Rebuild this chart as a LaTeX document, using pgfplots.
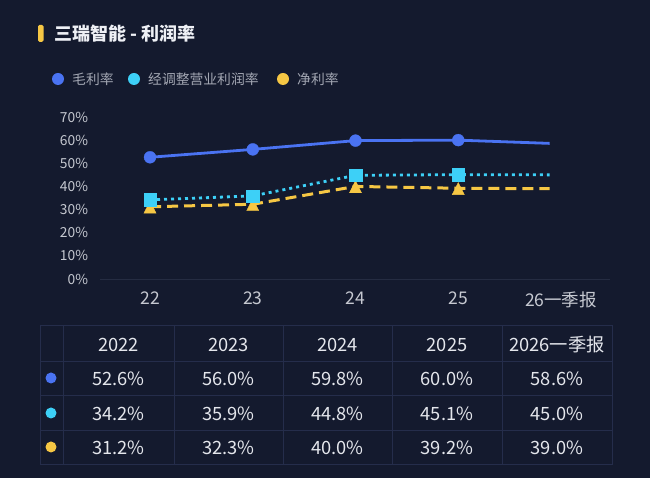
\documentclass[border=0pt]{standalone}
\usepackage{pgfplots}
\pgfplotsset{compat=1.18}
\usepackage{fontspec}
\setmainfont{Noto Sans CJK SC}
\definecolor{bg}{HTML}{141A2E}
\definecolor{cblue}{HTML}{4A73F2}
\definecolor{ccyan}{HTML}{3DD0F7}
\definecolor{cyel}{HTML}{F6C744}
\definecolor{titlec}{HTML}{EEF0F5}
\definecolor{legc}{HTML}{A3A7B3}
\definecolor{tickc}{HTML}{C6C9D1}
\definecolor{tabc}{HTML}{E4E6EC}
\definecolor{gridc}{HTML}{252D4B}
\definecolor{basec}{HTML}{252C42}
\begin{document}
\begin{tikzpicture}
\fill[bg] (0,0) rectangle (650pt,478pt);
\begin{scope}[x=1pt,y=-1pt,yshift=478pt]
  % title
  \fill[cyel, rounded corners=1.5pt] (38,25) rectangle (43.5,42);
  \node[anchor=west, text=titlec, font=\fontsize{18}{20}\selectfont\bfseries, inner sep=0] at (54,34) {三瑞智能 - 利润率};
  % legend
  \fill[cblue] (58,79) circle (6);
  \node[anchor=west, text=legc, font=\fontsize{13.8}{15}\selectfont, inner sep=0] at (72,79) {毛利率};
  \fill[ccyan] (134,79) circle (6);
  \node[anchor=west, text=legc, font=\fontsize{13.8}{15}\selectfont, inner sep=0] at (148,79) {经调整营业利润率};
  \fill[cyel] (283,79) circle (6);
  \node[anchor=west, text=legc, font=\fontsize{13.8}{15}\selectfont, inner sep=0] at (297,79) {净利率};
  % table grid
  \draw[gridc, line width=0.8pt] (40,325) rectangle (612,464);
  \foreach \yy in {361,395,430} \draw[gridc, line width=0.8pt] (40,\yy) -- (612,\yy);
  \foreach \xx in {63,174,283,392,502} \draw[gridc, line width=0.8pt] (\xx,325) -- (\xx,464);
  % table dots
  \fill[cblue] (51,378) circle (5.5);
  \fill[ccyan] (51,413) circle (5.5);
  \fill[cyel] (51,447) circle (5.5);
  % table text
  \begin{scope}[every node/.style={text=tabc, font=\fontsize{18.3}{20}\selectfont, inner sep=0}]
    \node at (118.5,345) {2022};
    \node at (228.5,345) {2023};
    \node at (337.5,345) {2024};
    \node at (447,345) {2025};
    \node at (557,345) {2026一季报};
    \node at (118.5,379) {52.6\%};
    \node at (228.5,379) {56.0\%};
    \node at (337.5,379) {59.8\%};
    \node at (447,379) {60.0\%};
    \node at (557,379) {58.6\%};
    \node at (118.5,414) {34.2\%};
    \node at (228.5,414) {35.9\%};
    \node at (337.5,414) {44.8\%};
    \node at (447,414) {45.1\%};
    \node at (557,414) {45.0\%};
    \node at (118.5,448) {31.2\%};
    \node at (228.5,448) {32.3\%};
    \node at (337.5,448) {40.0\%};
    \node at (447,448) {39.2\%};
    \node at (557,448) {39.0\%};
  \end{scope}
\end{scope}
\begin{axis}[
  at={(100pt,199pt)}, anchor=south west,
  scale only axis, width=510pt, height=162pt,
  xmin=-0.487, xmax=4.477, ymin=0, ymax=70,
  axis line style={draw=none},
  tick style={draw=none},
  ytick={0,10,20,30,40,50,60,70},
  yticklabels={0\%,10\%,20\%,30\%,40\%,50\%,60\%,70\%},
  xtick={0,1,2,3,4},
  xticklabels={22,23,24,25,26一季报},
  yticklabel style={font=\fontsize{13.8}{15}\selectfont, text=tickc, xshift=-8.5pt},
  xticklabel style={font=\fontsize{17.5}{19}\selectfont, text=tickc, yshift=-9pt},
  clip=false,
]
\draw[basec, line width=0.8pt] (axis cs:-0.487,0) -- (axis cs:4.477,0);
\addplot[cyel, line width=3pt, dash pattern=on 11pt off 6pt, mark=triangle*, mark size=7pt, mark options={solid, line width=0.3pt, yscale=1.15, yshift=-2pt}, mark indices={1,2,3,4}]
  coordinates {(0,31.2)(1,32.3)(2,40.0)(3,39.2)(3.89,39.0)};
\addplot[ccyan, line width=2.8pt, dash pattern=on 3pt off 4pt, mark=square*, mark size=6.2pt, mark options={solid, line width=0.3pt, rounded corners=2pt}, mark indices={1,2,3,4}]
  coordinates {(0,34.2)(1,35.9)(2,44.8)(3,45.1)(3.89,45.0)};
\addplot[cblue, line width=2.8pt, mark=*, mark size=6pt, mark options={line width=0.3pt}, mark indices={1,2,3,4}]
  coordinates {(0,52.6)(1,56.0)(2,59.8)(3,60.0)(3.89,58.6)};
\end{axis}
\pgfresetboundingbox
\useasboundingbox (0,0) rectangle (650pt,478pt);
\end{tikzpicture}
\end{document}
